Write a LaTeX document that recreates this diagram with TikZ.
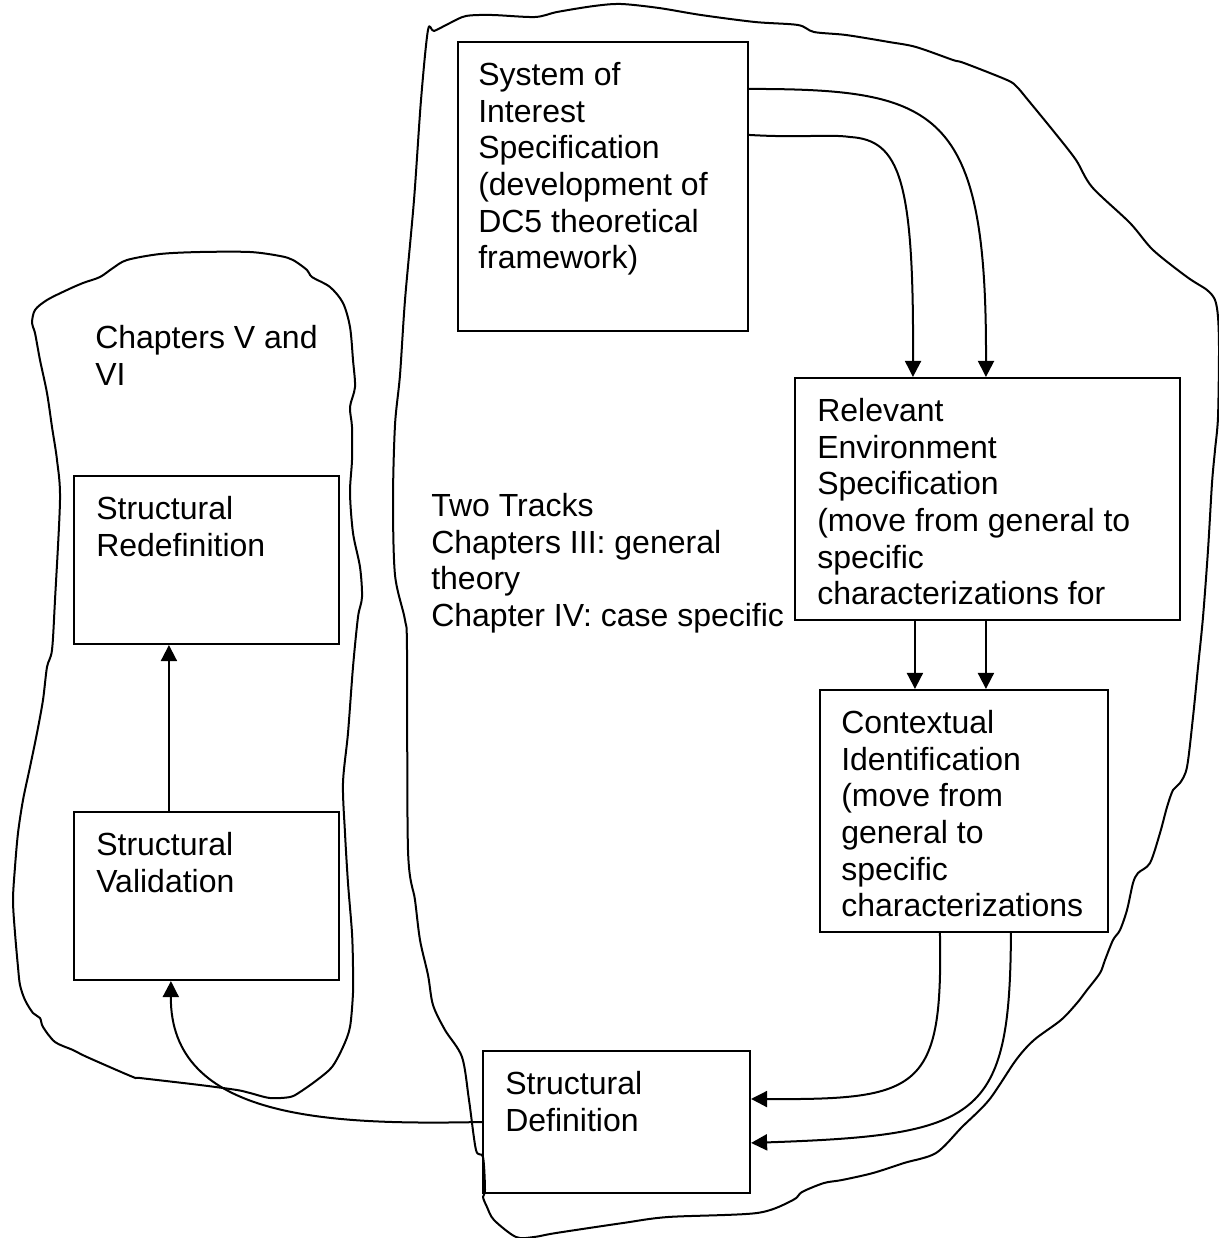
\documentclass[tikz,border=0pt]{standalone}
\usepackage{fontspec}
\setmainfont{Liberation Sans}
\usetikzlibrary{arrows.meta,calc}
\begin{document}
\begin{tikzpicture}[x=0.75pt,y=-0.75pt,
  box/.style={draw,line width=1.6pt,rectangle,inner sep=0pt},
  lbl/.style={anchor=north west,inner sep=0pt,align=left,font=\fontsize{24}{27.5}\selectfont},
  link/.style={line width=1.5pt,-{Triangle[length=12pt,width=12pt]}},
  outline/.style={line width=1.5pt,line join=round}]
\useasboundingbox (0,0) rectangle (1219,1238);

% hand-drawn outline around the first two tracks (right region)
\draw[outline] plot[smooth cycle,tension=0.5] coordinates {
  (428,30) (434,31) (450,23) (466,16) (492,15) (535,17) (557,12) (594,6)
  (621,4) (659,8) (701,15) (755,22) (798,25) (814,32) (846,35) (889,42)
  (916,47) (953,60) (964,63) (1007,80) (1017,87) (1028,100) (1055,133)
  (1076,160) (1092,187) (1130,223) (1153,250) (1187,277) (1207,290)
  (1215,300) (1218,317) (1219,350) (1218,417) (1215,450) (1212,483)
  (1208,550) (1203,617) (1198,667) (1193,717) (1187,767) (1180,783)
  (1173,790) (1167,807) (1160,833) (1150,863) (1138,873) (1133,883)
  (1127,910) (1120,930) (1113,940) (1105,960) (1100,973) (1087,990)
  (1077,1003) (1061,1020) (1034,1040) (1016,1060) (989,1100) (962,1127)
  (936,1153) (904,1163) (873,1173) (842,1180) (824,1183) (802,1192)
  (793,1200) (757,1213) (668,1217) (623,1223) (556,1233) (534,1237)
  (516,1237) (494,1220) (487,1207) (483,1197) (485,1190) (483,1157)
  (476,1150) (469,1100) (462,1057) (445,1030) (433,1005) (428,975)
  (420,940) (415,900) (408,850) (407,650) (405,620) (395,575) (393,500)
  (395,425) (400,375) (405,300) (414,200) (421,100)
};

% hand-drawn outline around chapters V and VI (left region)
\draw[outline] plot[smooth cycle,tension=0.5] coordinates {
  (35,310) (47,300) (67,290) (83,283) (100,277) (113,268) (127,260)
  (160,254) (200,252) (250,252) (280,256) (293,260) (307,270) (312,277)
  (330,287) (343,303) (350,327) (353,360) (355,387) (350,407) (352,427)
  (352,460) (350,493) (353,533) (360,567) (362,597) (358,617) (353,667)
  (348,733) (343,783) (345,833) (348,883) (352,933) (353,967) (353,993)
  (350,1027) (343,1047) (332,1067) (317,1080) (300,1092) (290,1097)
  (270,1098) (250,1093) (237,1090) (200,1085) (140,1078) (133,1077)
  (87,1057) (73,1050) (55,1042) (43,1027) (40,1018) (33,1013) (25,1000)
  (20,985) (18,967) (15,933) (13,900) (15,867) (18,833) (23,800)
  (30,767) (37,733) (43,700) (47,667) (52,650) (55,600) (60,500)
  (57,460) (52,427) (47,393) (40,360) (35,333) (32,323)
};

% boxes
\node[box,minimum width=217.5pt,minimum height=216.75pt] (soi) at (603,186.5) {};
\node[box,minimum width=288.75pt,minimum height=181.5pt] (res) at (987.5,499) {};
\node[box,minimum width=216pt,minimum height=181.5pt] (ctx) at (964,811) {};
\node[box,minimum width=200.25pt,minimum height=106.5pt] (sdef) at (616.5,1122) {};
\node[box,minimum width=198.75pt,minimum height=126pt] (sval) at (206.5,896) {};
\node[box,minimum width=198.75pt,minimum height=126pt] (sred) at (206.5,560) {};

% box texts
\node[lbl] (soi-t) at (478,62) {System of\\Interest\\Specification\\(development of\\DC5 theoretical\\framework)};
\node[lbl] (res-t) at (817,398) {Relevant\\Environment\\Specification\\(move from general to\\specific\\characterizations for};
\node[lbl] (ctx-t) at (841,710) {Contextual\\Identification\\(move from\\general to\\specific\\characterizations};
\node[lbl] (sdef-t) at (505,1071) {Structural\\Definition};
\node[lbl] (sval-t) at (96,832) {Structural\\Validation};
\node[lbl] (sred-t) at (96,496) {Structural\\Redefinition};

% region captions
\node[lbl] (chap56) at (95,325) {Chapters V and\\VI};
\node[lbl] (tracks) at (431,493) {Two Tracks\\Chapters III: general\\theory\\Chapter IV: case specific};

% connectors
\draw[link] ($(soi.north east)+(0,48)$) .. controls (938,89) and (987,108) .. ($(res.north west)+(192,0)$);
\draw[link] ($(soi.north east)+(0,94)$) .. controls (800,138) and (830,134) .. (850,137)
  .. controls (900,140) and (914,180) .. ($(res.north west)+(119,0)$);

\draw[link] ($(res.south west)+(121,0)$) -- ($(ctx.north west)+(96,0)$);
\draw[link] ($(res.south west)+(192,0)$) -- ($(ctx.north west)+(167,0)$);

\draw[link] ($(ctx.south west)+(121,0)$) .. controls (943,1090) and (920,1100) .. ($(sdef.north east)+(0,49)$);
\draw[link] ($(ctx.south west)+(192,0)$) .. controls (1010,1120) and (980,1135) .. ($(sdef.north east)+(0,93)$);

\draw[link] (sdef.west) .. controls (330,1125) and (170,1120) .. ($(sval.south west)+(98,0)$);

\draw[link] ($(sval.north west)+(96,0)$) -- ($(sred.south west)+(96,0)$);
\end{tikzpicture}
\end{document}
